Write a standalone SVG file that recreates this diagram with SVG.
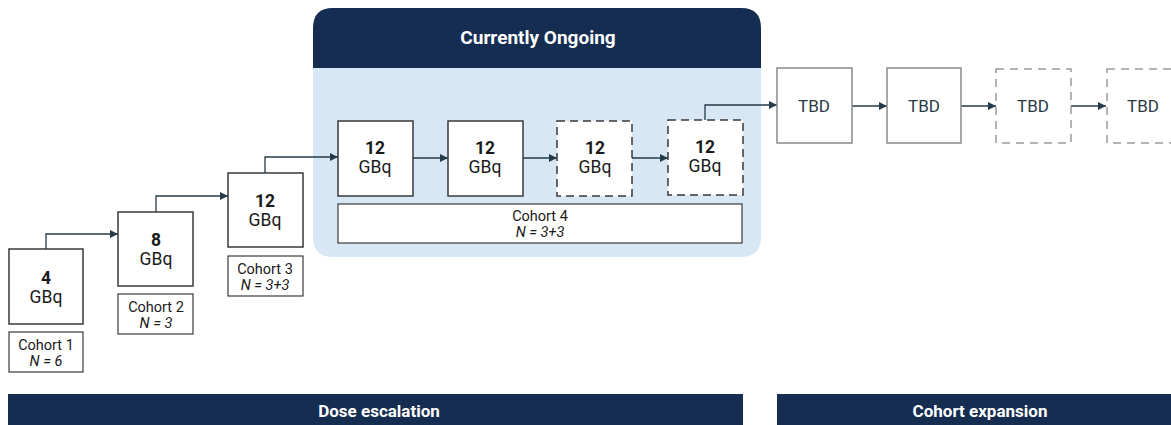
<svg xmlns="http://www.w3.org/2000/svg" width="1171" height="425" viewBox="0 0 1171 425">
<defs>
<marker id="arr" viewBox="0 0 10 10" refX="10" refY="5" markerWidth="8" markerHeight="8" markerUnits="userSpaceOnUse" orient="auto"><path d="M0,0 L10,5 L0,10 z" fill="#243b4a"/></marker>
<style>
.box{fill:#fff;stroke:#3a3a3a;stroke-width:1.5}
.dbox{fill:#fff;stroke:#3a3a3a;stroke-width:1.5;stroke-dasharray:8,5}
.tbox{fill:#fff;stroke:#8a8a8a;stroke-width:1.5}
.tdbox{fill:#fff;stroke:#9a9a9a;stroke-width:1.5;stroke-dasharray:8,6}
.lbl{fill:#fff;stroke:#3a3a3a;stroke-width:1.2}
.num{font-family:Roboto,"Liberation Sans",sans-serif;font-weight:bold;font-size:17.5px;fill:#1a1a1a;text-anchor:middle}
.unit{font-family:Roboto,"Liberation Sans",sans-serif;font-size:17.5px;fill:#1a1a1a;text-anchor:middle}
.coh{font-family:Roboto,"Liberation Sans",sans-serif;font-size:14.5px;fill:#1a1a1a;text-anchor:middle}
.n{font-family:Roboto,"Liberation Sans",sans-serif;font-size:14.5px;font-style:italic;fill:#1a1a1a;text-anchor:middle}
.tbd{font-family:Roboto,"Liberation Sans",sans-serif;font-size:17px;fill:#2a3a44;text-anchor:middle}
.hdr{font-family:Roboto,"Liberation Sans",sans-serif;font-weight:bold;font-size:19px;fill:#fff;text-anchor:middle}
.bar{fill:#152d50}
.bartxt{font-family:Roboto,"Liberation Sans",sans-serif;font-weight:bold;font-size:17px;fill:#fff;text-anchor:middle}
.con{fill:none;stroke:#243b4a;stroke-width:1.3;marker-end:url(#arr)}
</style>
</defs>
<rect width="1171" height="425" fill="#fff"/>

<g id="panel">
<path d="M313,257 L313,28 Q313,8 333,8 L741,8 Q761,8 761,28 L761,237 Q761,257 741,257 L333,257 Q313,257 313,237 Z" fill="#d7e7f6"/>
<path d="M313,68 L313,28 Q313,8 333,8 L741,8 Q761,8 761,28 L761,68 Z" fill="#152d50"/>
<text class="hdr" x="538" y="44">Currently Ongoing</text>
</g>

<g id="connectors">
<path class="con" d="M46,249 L46,234 L118,234"/>
<path class="con" d="M156,212 L156,196 L228,196"/>
<path class="con" d="M265,173 L265,157 L338,157"/>
<path class="con" d="M413,158 L448,158"/>
<path class="con" d="M523,158 L557,158"/>
<path class="con" d="M632,158 L668,158"/>
<path class="con" d="M705,120 L705,105 L777,105"/>
<path class="con" d="M852,106 L887,106"/>
<path class="con" d="M961,106 L996,106"/>
<path class="con" d="M1071,106 L1106,106"/>
</g>

<g id="n1"><rect class="box" x="9" y="249" width="74" height="75"/><text class="num" x="46" y="284">4</text><text class="unit" x="46" y="303">GBq</text></g>
<g id="c1"><rect class="lbl" x="9" y="332" width="74" height="40"/><text class="coh" x="46" y="350">Cohort 1</text><text class="n" x="46" y="366">N = 6</text></g>

<g id="n2"><rect class="box" x="118" y="212" width="75" height="74"/><text class="num" x="156" y="246">8</text><text class="unit" x="156" y="265">GBq</text></g>
<g id="c2"><rect class="lbl" x="118" y="294" width="75" height="40"/><text class="coh" x="156" y="312">Cohort 2</text><text class="n" x="156" y="328">N = 3</text></g>

<g id="n3"><rect class="box" x="228" y="173" width="75" height="74"/><text class="num" x="265" y="207">12</text><text class="unit" x="265" y="226">GBq</text></g>
<g id="c3"><rect class="lbl" x="228" y="256" width="75" height="40"/><text class="coh" x="265" y="274">Cohort 3</text><text class="n" x="265" y="290">N = 3+3</text></g>

<g id="n4a"><rect class="box" x="338" y="121" width="75" height="75"/><text class="num" x="375" y="154">12</text><text class="unit" x="375" y="173">GBq</text></g>
<g id="n4b"><rect class="box" x="448" y="121" width="75" height="75"/><text class="num" x="485" y="154">12</text><text class="unit" x="485" y="173">GBq</text></g>
<g id="n4c"><rect class="dbox" x="557" y="121" width="75" height="75"/><text class="num" x="595" y="154">12</text><text class="unit" x="595" y="173">GBq</text></g>
<g id="n4d"><rect class="dbox" x="668" y="120" width="75" height="75"/><text class="num" x="705" y="153">12</text><text class="unit" x="705" y="172">GBq</text></g>
<g id="c4"><rect class="lbl" x="338" y="204" width="404" height="39"/><text class="coh" x="540" y="221">Cohort 4</text><text class="n" x="540" y="237">N = 3+3</text></g>

<g id="t1"><rect class="tbox" x="777" y="68" width="75" height="75"/><text class="tbd" x="814" y="111.5">TBD</text></g>
<g id="t2"><rect class="tbox" x="887" y="68" width="74" height="75"/><text class="tbd" x="924" y="111.5">TBD</text></g>
<g id="t3"><rect class="tdbox" x="996" y="69" width="75" height="74"/><text class="tbd" x="1033" y="111.5">TBD</text></g>
<g id="t4"><rect class="tdbox" x="1107" y="69" width="75" height="74"/><text class="tbd" x="1143" y="111.5">TBD</text></g>

<g id="bar1"><rect class="bar" x="8" y="394" width="735" height="31"/><text class="bartxt" x="379" y="417">Dose escalation</text></g>
<g id="bar2"><rect class="bar" x="777" y="394" width="394" height="31"/><text class="bartxt" x="980" y="417">Cohort expansion</text></g>
</svg>
